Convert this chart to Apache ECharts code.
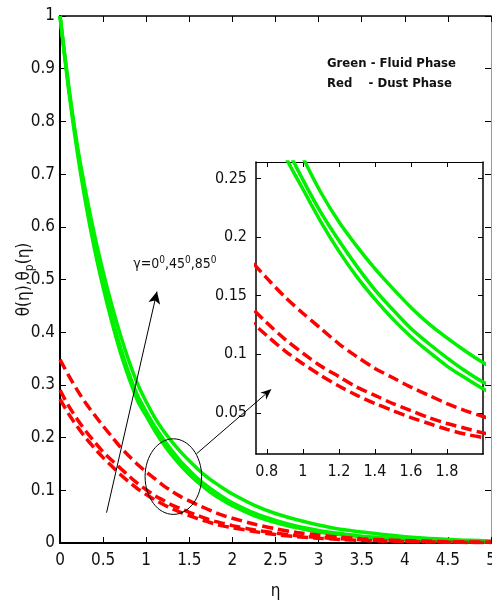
<!DOCTYPE html>
<html><head><meta charset="utf-8">
<script src="https://cdn.jsdelivr.net/npm/echarts@6/dist/echarts.min.js"></script>
<style>html,body{margin:0;padding:0;background:#fff}#c{width:492px;height:603px}</style>
</head><body><div id="c"></div>
<script>
// ---- data ----
const eta = [0,0.1,0.2,0.3,0.4,0.5,0.6,0.7,0.8,0.9,1.0,1.1,1.2,1.3,1.4,1.5,1.6,1.7,1.8,1.9,2.0,
             2.25,2.5,2.75,3.0,3.25,3.5,3.75,4.0,4.25,4.5,4.75,5.0];
const fluidA = [1.000,0.868,0.755,0.665,0.585,0.515,0.452,0.395,0.345,0.302,0.268,0.238,0.213,0.192,0.173,0.156,0.140,0.126,0.114,0.103,0.093,
                0.072,0.056,0.044,0.034,0.026,0.021,0.016,0.012,0.009,0.007,0.005,0.004];
const fluidB = [1.000,0.865,0.750,0.652,0.567,0.494,0.430,0.372,0.322,0.280,0.249,0.221,0.197,0.175,0.155,0.138,0.122,0.109,0.097,0.086,0.0764,
                0.057,0.043,0.032,0.024,0.018,0.013,0.010,0.0075,0.0055,0.004,0.003,0.0022];
const fluidC = [1.000,0.860,0.742,0.643,0.558,0.485,0.420,0.362,0.313,0.270,0.241,0.213,0.188,0.166,0.147,0.130,0.115,0.102,0.090,0.080,0.0707,
                0.052,0.039,0.029,0.021,0.016,0.012,0.009,0.0065,0.005,0.0037,0.0027,0.002];
const dustA  = [0.348,0.318,0.290,0.265,0.243,0.222,0.202,0.182,0.165,0.149,0.135,0.122,0.109,0.098,0.088,0.080,0.072,0.065,0.058,0.052,0.047,
                0.036,0.027,0.020,0.015,0.011,0.008,0.006,0.0045,0.0034,0.0025,0.0018,0.0013];
const dustB  = [0.290,0.260,0.235,0.212,0.192,0.173,0.157,0.142,0.127,0.113,0.101,0.090,0.081,0.072,0.065,0.058,0.052,0.046,0.041,0.037,0.033,
                0.025,0.019,0.014,0.0105,0.008,0.006,0.0045,0.0035,0.0027,0.002,0.0015,0.0012];
const dustC  = [0.273,0.245,0.221,0.199,0.180,0.162,0.146,0.130,0.116,0.103,0.092,0.082,0.073,0.065,0.058,0.052,0.046,0.041,0.036,0.032,0.029,
                0.022,0.016,0.012,0.009,0.0068,0.005,0.0038,0.0028,0.002,0.0015,0.0011,0.0008];

const mainXTicks = [0,0.5,1,1.5,2,2.5,3,3.5,4,4.5,5];
const insetXTicks = [0.8,1,1.2,1.4,1.6,1.8];
const insetYTicks = [0.05,0.1,0.15,0.2,0.25];
const insetXRange = [0.74, 2.0];
const insetYRange = [0.015, 0.264];

// annotations (data coordinates)
const gammaText = 'γ=0{s|0},45{s|0},85{s|0}';
const gammaTextPos = [0.85, 0.528];
const gammaArrowFrom = [0.54, 0.0575];
const gammaArrowTo = [1.125, 0.477];
const ellipseCenter = [1.315, 0.126];
const ellipseRadii = [0.328, 0.0717];
const connectorFrom = [1.585, 0.1695];   // main axes
const connectorTo = [0.826, 0.0704];     // inset axes
const legendLines = ['Green - Fluid Phase', 'Red    - Dust Phase'];

// ---- chart ----
const GREEN = '#00f000', RED = '#ff0000';
const FONT = "'Liberation Sans Narrow','DejaVu Sans Condensed','Arial Narrow','Liberation Sans',sans-serif";
const curves = [
  {name:'fluid1', ys: fluidA, color: GREEN, dash: false},
  {name:'fluid2', ys: fluidB, color: GREEN, dash: false},
  {name:'fluid3', ys: fluidC, color: GREEN, dash: false},
  {name:'dust1', ys: dustA, color: RED, dash: true},
  {name:'dust2', ys: dustB, color: RED, dash: true},
  {name:'dust3', ys: dustC, color: RED, dash: true}
];
function pairs(ys){ return eta.map((x,i)=>[x, ys[i]]); }

const series = [];
curves.forEach(c => {
  series.push({type:'line', name:c.name, xAxisIndex:0, yAxisIndex:0, data:pairs(c.ys), showSymbol:false,
    smooth:0.3, z:2, lineStyle:{color:c.color, width:3.5, type:c.dash?[11,5]:'solid'}, itemStyle:{color:c.color}});
});
curves.forEach(c => {
  series.push({type:'line', name:c.name+'_inset', xAxisIndex:2, yAxisIndex:2, data:pairs(c.ys), showSymbol:false,
    smooth:0.3, z:6, clip:true, lineStyle:{color:c.color, width:3.5, type:c.dash?[11,5]:'solid'}, itemStyle:{color:c.color}});
});
// gamma arrow as markLine on first series
series[0].markLine = {silent:true, symbol:['none','arrow'], symbolSize:[9,12], animation:false,
  label:{show:false}, lineStyle:{color:'#000', width:1, type:'solid'},
  data:[[{coord:gammaArrowFrom},{coord:gammaArrowTo}]]};

const lab = {fontFamily:FONT, fontSize:17, color:'#111'};
const noSplit = {show:false};
const option = {
  animation:false,
  backgroundColor:'#fff',
  grid:[
    {left:60, top:16, width:431, height:527, containLabel:false, outerBoundsMode:'none'},
    {left:256, top:162, width:227, height:292, show:true, backgroundColor:'#fff', borderWidth:0, z:3, containLabel:false, outerBoundsMode:'none'}
  ],
  xAxis:[
    {type:'value', gridIndex:0, position:'bottom', min:0, max:5, interval:0.5,
     axisLine:{show:true, onZero:false, lineStyle:{color:'#000', width:2}},
     axisTick:{show:true, inside:true, length:6, lineStyle:{color:'#000'}},
     axisLabel:Object.assign({margin:9, customValues:mainXTicks}, lab), splitLine:noSplit,
     name:'η', nameLocation:'middle', nameGap:40, nameMoveOverlap:false, nameTextStyle:lab},
    {type:'value', gridIndex:0, position:'top', min:0, max:5, interval:0.5,
     axisLine:{show:true, onZero:false, lineStyle:{color:'#000', width:1.5}},
     axisTick:{show:true, inside:true, length:6, lineStyle:{color:'#000'}},
     axisLabel:{show:false}, splitLine:noSplit},
    {type:'value', gridIndex:1, position:'bottom', min:insetXRange[0], max:insetXRange[1], z:5,
     axisLine:{show:true, onZero:false, lineStyle:{color:'#000', width:1.5}},
     axisTick:{show:true, inside:true, length:5, customValues:insetXTicks, lineStyle:{color:'#000'}},
     axisLabel:Object.assign({margin:10, customValues:insetXTicks}, lab, {fontSize:16}), splitLine:noSplit},
    {type:'value', gridIndex:1, position:'top', min:insetXRange[0], max:insetXRange[1], z:5,
     axisLine:{show:true, onZero:false, lineStyle:{color:'#000', width:1}},
     axisTick:{show:true, inside:true, length:5, customValues:insetXTicks, lineStyle:{color:'#000'}},
     axisLabel:{show:false}, splitLine:noSplit}
  ],
  yAxis:[
    {type:'value', gridIndex:0, position:'left', min:0, max:1, interval:0.1,
     axisLine:{show:true, onZero:false, lineStyle:{color:'#000', width:2}},
     axisTick:{show:true, inside:true, length:6, lineStyle:{color:'#000'}},
     axisLabel:Object.assign({margin:5}, lab), splitLine:noSplit,
     name:'{n|θ(η),θ}{p|p}{n|(η)}', nameLocation:'middle', nameGap:24, nameRotate:90, nameMoveOverlap:false,
     nameTextStyle:{fontFamily:FONT, color:'#111',
       rich:{n:{fontFamily:FONT, fontSize:17, color:'#111'}, p:{fontFamily:FONT, fontSize:12, color:'#111', padding:[10,0,0,0]}}}},
    {type:'value', gridIndex:0, position:'right', min:0, max:1, interval:0.1,
     axisLine:{show:true, onZero:false, lineStyle:{color:'#999', width:1}},
     axisTick:{show:true, inside:true, length:6, lineStyle:{color:'#000'}},
     axisLabel:{show:false}, splitLine:noSplit},
    {type:'value', gridIndex:1, position:'left', min:insetYRange[0], max:insetYRange[1], z:5,
     axisLine:{show:true, onZero:false, lineStyle:{color:'#000', width:1.5}},
     axisTick:{show:true, inside:true, length:5, customValues:insetYTicks, lineStyle:{color:'#000'}},
     axisLabel:Object.assign({margin:9, customValues:insetYTicks}, lab, {fontSize:16}), splitLine:noSplit},
    {type:'value', gridIndex:1, position:'right', min:insetYRange[0], max:insetYRange[1], z:5,
     axisLine:{show:true, onZero:false, lineStyle:{color:'#000', width:1.5}},
     axisTick:{show:true, inside:true, length:5, customValues:insetYTicks, lineStyle:{color:'#000'}},
     axisLabel:{show:false}, splitLine:noSplit}
  ],
  series: series
};

const chart = echarts.init(document.getElementById('c'), null, {renderer:'canvas'});
chart.setOption(option);

// annotations positioned through the axes
const toMain = v => chart.convertToPixel({seriesIndex:0}, v);
const toInset = v => chart.convertToPixel({seriesIndex:6}, v);
const ec = toMain(ellipseCenter);
const ex = toMain([ellipseCenter[0]+ellipseRadii[0], ellipseCenter[1]+ellipseRadii[1]]);
const cf = toMain(connectorFrom);
const ct = toInset(connectorTo);
const gt = toMain(gammaTextPos);
// arrowhead polygon for the connector
const dx = ct[0]-cf[0], dy = ct[1]-cf[1], L = Math.hypot(dx,dy), ux = dx/L, uy = dy/L;
const hl = 11, hw = 4.5;
const back = [ct[0]-ux*hl, ct[1]-uy*hl];
const notch = [ct[0]-ux*hl*0.7, ct[1]-uy*hl*0.7];
const head = [ct, [back[0]-uy*hw, back[1]+ux*hw], notch, [back[0]+uy*hw, back[1]-ux*hw]];

chart.setOption({graphic:[
  {type:'ellipse', shape:{cx:ec[0], cy:ec[1], rx:Math.abs(ex[0]-ec[0]), ry:Math.abs(ec[1]-ex[1])},
   style:{fill:null, stroke:'#000', lineWidth:1}, z:20},
  {type:'line', shape:{x1:cf[0], y1:cf[1], x2:notch[0], y2:notch[1]}, style:{stroke:'#000', lineWidth:1}, z:20},
  {type:'polygon', shape:{points:head}, style:{fill:'#000'}, z:20},
  {type:'text', x:gt[0], y:gt[1], z:20,
   style:{text:gammaText, fontFamily:FONT, fontSize:14, fill:'#111', verticalAlign:'middle', align:'left',
     rich:{s:{fontFamily:FONT, fontSize:10, fill:'#111', padding:[0,0,9,0]}}}},
  {type:'text', left:327, top:57, z:20,
   style:{text:legendLines[0], fontFamily:FONT, fontSize:13, fontWeight:'bold', fill:'#111'}},
  {type:'text', left:327, top:77, z:20,
   style:{text:legendLines[1], fontFamily:FONT, fontSize:13, fontWeight:'bold', fill:'#111'}}
]});
</script></body></html>
